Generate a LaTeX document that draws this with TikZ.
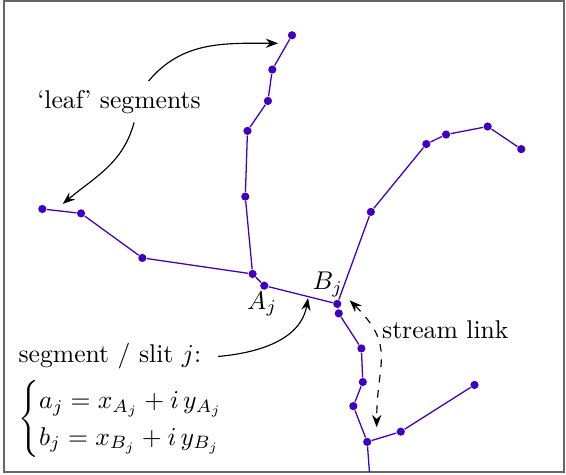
\documentclass[tikz,border=0pt]{standalone}
\usepackage{amsmath,amssymb}
\usepackage{xcolor}
\usepackage{tikz}
\usetikzlibrary{arrows.meta,positioning}
\definecolor{rivercol}{RGB}{64,0,192}

\begin{document}
\begin{tikzpicture}[
    riverpt/.style={circle,fill=rivercol,inner sep=0pt,minimum size=3.2pt},
    river/.style={rivercol,line width=0.5pt},
    callout/.style={-{Stealth[length=4.8pt,width=3.6pt]},line width=0.45pt}]
  \useasboundingbox (0,0) rectangle (7.753,6.493);
  \draw[black!60,line width=0.8pt] (0.055,0.027) rectangle (7.726,6.479);
  \node[riverpt] (t1) at (4.00,6.01) {};
  \node[riverpt] (t2) at (3.73,5.54) {};
  \node[riverpt] (t3) at (3.67,5.11) {};
  \node[riverpt] (t4) at (3.39,4.70) {};
  \node[riverpt] (t5) at (3.36,3.80) {};
  \node[riverpt] (j1) at (3.46,2.74) {};
  \node[riverpt] (a) at (3.62,2.58) {};
  \node[riverpt] (b) at (4.62,2.33) {};
  \node[riverpt] (c) at (4.64,2.20) {};
  \node[riverpt] (d1) at (4.95,1.72) {};
  \node[riverpt] (d2) at (4.97,1.26) {};
  \node[riverpt] (d3) at (4.84,0.93) {};
  \node[riverpt] (j3) at (5.03,0.44) {};
  \node[riverpt] (e1) at (5.49,0.58) {};
  \node[riverpt] (e2) at (6.50,1.22) {};
  \node[riverpt] (l1) at (0.58,3.63) {};
  \node[riverpt] (l2) at (1.11,3.57) {};
  \node[riverpt] (l3) at (1.95,2.96) {};
  \node[riverpt] (r1) at (5.08,3.59) {};
  \node[riverpt] (r2) at (5.84,4.52) {};
  \node[riverpt] (r3) at (6.11,4.65) {};
  \node[riverpt] (r4) at (6.68,4.76) {};
  \node[riverpt] (r5) at (7.14,4.45) {};
  \coordinate (outlet) at (5.06,0.03);
  \draw[river] (t1) -- (t2) -- (t3) -- (t4) -- (t5) -- (j1);
  \draw[river] (l1) -- (l2) -- (l3) -- (j1);
  \draw[river] (j1) -- (a) -- (b);
  \draw[river] (b) -- (r1) -- (r2) -- (r3) -- (r4) -- (r5);
  \draw[river] (b) -- (c) -- (d1) -- (d2) -- (d3) -- (j3) -- (outlet);
  \draw[river] (j3) -- (e1) -- (e2);
  \node (Alab) at (3.59,2.33) {$A_j$};
  \node (Blab) at (4.49,2.60) {$B_j$};
  \node (leaf) at (1.63,5.10) {‘leaf’ segments};
  \node (strm) at (6.10,1.98) {stream link};
  \node[anchor=west,inner ysep=0pt] (seg) at (0.13,1.61) {segment / slit $j$:};
  \node[anchor=west,inner ysep=0pt] (eqs) at (0.13,0.75)
    {$\begin{cases} a_j = x_{A_j} + i\,y_{A_j}\\ b_j = x_{B_j} + i\,y_{B_j}\end{cases}$};
  \coordinate (tipT) at (3.81,5.90);
  \coordinate (tipL) at (0.86,3.70);
  \coordinate (tipS) at (4.22,2.41);
  \coordinate (tipU) at (4.79,2.38);
  \coordinate (tipD) at (5.16,0.64);
  \draw[callout] (leaf.35) to[out=50,in=180] (tipT);
  \draw[callout] (leaf.-54) to[out=-105,in=40] (tipL);
  \draw[callout] ([xshift=3pt]seg.east) to[out=5,in=-100] (tipS);
  \draw[{Stealth[length=4.8pt,width=3.6pt]}-{Stealth[length=4.8pt,width=3.6pt]},line width=0.45pt,dashed]
    (tipU) to[out=-45,in=90,looseness=1.3] (tipD);
\end{tikzpicture}
\end{document}
